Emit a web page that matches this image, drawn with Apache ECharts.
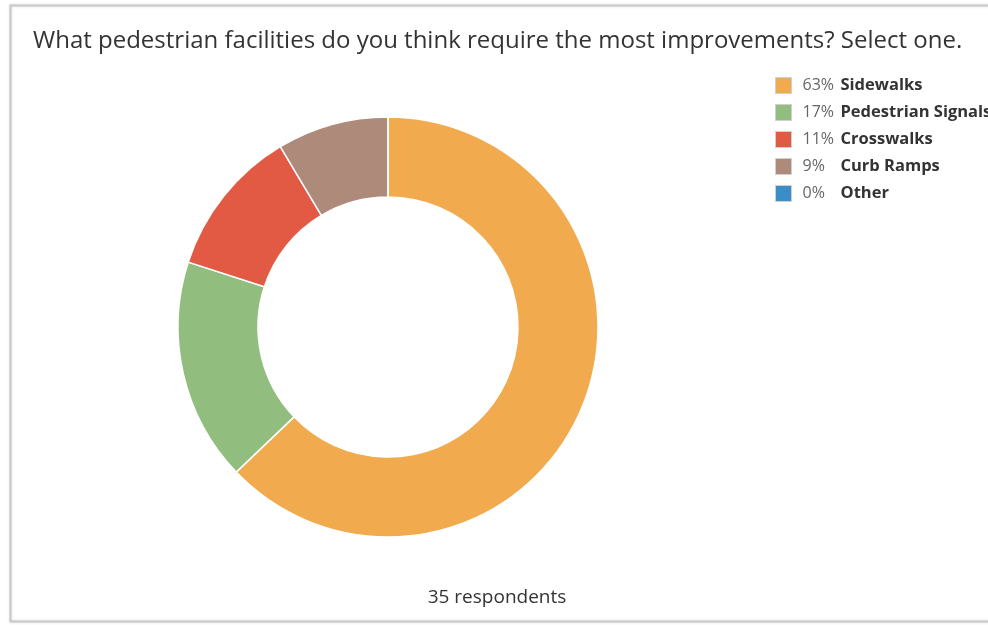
<!DOCTYPE html>
<html>
<head>
<meta charset="utf-8">
<script src="https://cdn.jsdelivr.net/npm/echarts@6/dist/echarts.min.js"></script>
<style>
  html, body { margin: 0; padding: 0; background: #fff; }
  #chart { width: 988px; height: 625px; }
</style>
</head>
<body>
<div id="chart"></div>
<script>
const questionTitle = 'What pedestrian facilities do you think require the most improvements? Select one.'
const categories = ['Sidewalks', 'Pedestrian Signals', 'Crosswalks', 'Curb Ramps', 'Other']
const responseCounts = [22, 6, 4, 3, 0]
const sliceColors = ['#F2AA4F', '#91BE7E', '#E35A44', '#AE8A7B', '#3B8DC8']
const respondentCount = 35

const total = responseCounts.reduce((a, b) => a + b, 0)
const pctOf = (name) => {
  const i = categories.indexOf(name)
  return Math.round(responseCounts[i] / total * 100) + '%'
}

const chart = echarts.init(document.getElementById('chart'))

const option = {
  backgroundColor: '#fff',
  animation: false,
  textStyle: { fontFamily: '"Open Sans", sans-serif' },
  title: {
    text: questionTitle,
    left: 33,
    top: 29,
    padding: 0,
    textStyle: {
      fontFamily: '"Open Sans", sans-serif',
      fontSize: 24,
      fontWeight: 'normal',
      color: '#333'
    }
  },
  legend: {
    orient: 'vertical',
    left: 775,
    top: 77,
    padding: 0,
    icon: 'rect',
    itemWidth: 16,
    itemHeight: 16,
    itemGap: 10,
    selectedMode: false,
    itemStyle: { borderColor: '#cfcfcf', borderWidth: 1 },
    data: categories,
    formatter: (name) => `{p|${pctOf(name)}}{n|${name}}`,
    textStyle: {
      fontSize: 16,
      lineHeight: 16,
      rich: {
        p: { fontSize: 16, lineHeight: 16, color: '#666', width: 38, padding: [0, 0, 0, 6] },
        n: { fontSize: 16.5, lineHeight: 16, color: '#333', fontWeight: 'bold' }
      }
    }
  },
  graphic: [
    {
      type: 'rect',
      shape: { x: 10.5, y: 5.5, width: 1000, height: 616 },
      style: { fill: 'none', stroke: '#c8c8c8', lineWidth: 2, shadowColor: 'rgba(0,0,0,0.15)', shadowBlur: 3 },
      silent: true,
      z: -1
    },
    {
      type: 'text',
      x: 497,
      y: 598,
      style: {
        text: respondentCount + ' respondents',
        fontFamily: '"Open Sans", sans-serif',
        fontSize: 19,
        fill: '#333',
        textAlign: 'center',
        textVerticalAlign: 'middle'
      }
    }
  ],
  series: [
    {
      type: 'pie',
      center: [388, 327],
      radius: [130, 210],
      startAngle: 90,
      clockwise: true,
      label: { show: false },
      labelLine: { show: false },
      emphasis: { disabled: true },
      itemStyle: { borderColor: '#fff', borderWidth: 1.5 },
      data: categories.map((name, i) => ({
        name,
        value: responseCounts[i],
        itemStyle: { color: sliceColors[i] }
      }))
    }
  ]
}

chart.setOption(option)
</script>
</body>
</html>
